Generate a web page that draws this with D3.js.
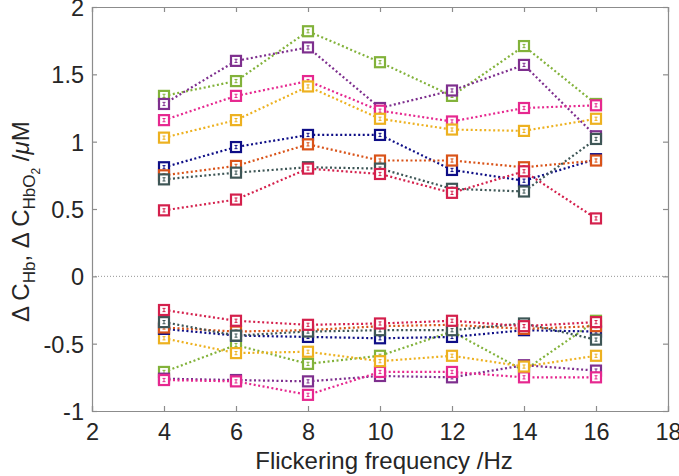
<!DOCTYPE html>
<html><head><meta charset="utf-8">
<script src="https://cdn.jsdelivr.net/npm/d3@7"></script>
<style>body{margin:0;background:#fff}svg{display:block}text{font-family:Arial,"Liberation Sans",Helvetica,sans-serif;fill:#262626}</style>
</head><body><svg id="c" width="679" height="476"></svg>
<script>
const frequencies = [4, 6, 8, 10, 12, 14, 16];
const xTicks = [2, 4, 6, 8, 10, 12, 14, 16, 18];
const yTicks = [-1, -0.5, 0, 0.5, 1, 1.5, 2];
const colors = ["#82B23A", "#7E2F8E", "#E6288F", "#EDB120", "#0E0E86", "#D95319", "#3E5656", "#D4204C"];
// HbO2 (upper) series
const hbo2Green   = [1.34, 1.45, 1.82, 1.59, 1.34, 1.71, 1.28];
const hbo2Purple  = [1.28, 1.60, 1.70, 1.25, 1.38, 1.57, 1.04];
const hbo2Pink    = [1.16, 1.34, 1.45, 1.23, 1.15, 1.25, 1.27];
const hbo2Yellow  = [1.03, 1.16, 1.41, 1.17, 1.09, 1.08, 1.17];
const hbo2Navy    = [0.81, 0.96, 1.05, 1.05, 0.79, 0.71, 0.87];
const hbo2Orange  = [0.75, 0.82, 0.98, 0.86, 0.86, 0.81, 0.86];
const hbo2Gray    = [0.72, 0.77, 0.81, 0.80, 0.65, 0.63, 1.02];
const hbo2Crimson = [0.49, 0.57, 0.80, 0.76, 0.62, 0.78, 0.43];
// Hb (lower) series
const hbGreen   = [-0.71, -0.51, -0.65, -0.59, -0.41, -0.70, -0.33];
const hbPurple  = [-0.76, -0.77, -0.78, -0.74, -0.75, -0.66, -0.70];
const hbPink    = [-0.77, -0.78, -0.88, -0.71, -0.71, -0.75, -0.75];
const hbYellow  = [-0.46, -0.57, -0.56, -0.63, -0.59, -0.67, -0.59];
const hbNavy    = [-0.39, -0.44, -0.45, -0.46, -0.45, -0.40, -0.41];
const hbOrange  = [-0.38, -0.41, -0.40, -0.37, -0.36, -0.39, -0.37];
const hbGray    = [-0.34, -0.44, -0.41, -0.40, -0.40, -0.35, -0.47];
const hbCrimson = [-0.25, -0.33, -0.36, -0.35, -0.33, -0.37, -0.34];
const errHalf = 0.012;

const upper = [hbo2Green, hbo2Purple, hbo2Pink, hbo2Yellow, hbo2Navy, hbo2Orange, hbo2Gray, hbo2Crimson];
const lower = [hbGreen, hbPurple, hbPink, hbYellow, hbNavy, hbOrange, hbGray, hbCrimson];

const svg = d3.select("#c");
const L = 92, R = 668, T = 7, B = 411;
const x = d3.scaleLinear().domain([2, 18]).range([L, R]);
const y = d3.scaleLinear().domain([-1, 2]).range([B, T]);
const axisCol = "#8c8c8c";

// zero line
svg.append("line").attr("x1", L).attr("x2", R).attr("y1", y(0)).attr("y2", y(0))
  .attr("stroke", "#777").attr("stroke-width", 0.8).attr("stroke-dasharray", "1,2");

// axes
const gx = svg.append("g").attr("transform", `translate(0,${B})`)
  .call(d3.axisBottom(x).tickValues(xTicks).tickSize(-5).tickPadding(12).tickFormat(d3.format("d")));
const gxt = svg.append("g").attr("transform", `translate(0,${T})`)
  .call(d3.axisTop(x).tickValues(xTicks).tickSize(-5).tickFormat(""));
const gy = svg.append("g").attr("transform", `translate(${L},0)`)
  .call(d3.axisLeft(y).tickValues(yTicks).tickSize(-5).tickPadding(8).tickFormat(d => String(d)));
const gyr = svg.append("g").attr("transform", `translate(${R},0)`)
  .call(d3.axisRight(y).tickValues(yTicks).tickSize(-5).tickFormat(""));
[gx, gxt, gy, gyr].forEach(g => {
  g.select(".domain").attr("stroke", axisCol).attr("stroke-width", 1.2);
  g.selectAll(".tick line").attr("stroke", axisCol).attr("stroke-width", 1.2);
  g.selectAll("text").attr("font-size", 23.5).attr("fill", "#262626")
    .style("font-family", "Arial, 'Liberation Sans', Helvetica, sans-serif");
});
gx.selectAll("text").attr("dy", "0.71em");
gy.selectAll("text").attr("dy", "0.36em");

// series
const line = d3.line().x((d, i) => x(frequencies[i])).y(d => y(d));
function drawSet(sets) {
  sets.forEach((vals, k) => {
    const col = colors[k];
    const g = svg.append("g");
    g.append("path").attr("d", line(vals)).attr("fill", "none").attr("stroke", col)
      .attr("stroke-width", 2.2).attr("stroke-dasharray", "2,2.5");
    const pts = g.selectAll("g.pt").data(vals).join("g").attr("class", "pt")
      .attr("transform", (d, i) => `translate(${x(frequencies[i])},${y(d)})`);
    pts.append("rect").attr("x", -5).attr("y", -5).attr("width", 10).attr("height", 10)
      .attr("fill", "#fff").attr("stroke", col).attr("stroke-width", 2.2);
    // tiny error bars
    pts.append("path").attr("d", d => {
      const a = y(d + errHalf) - y(d), b = y(d - errHalf) - y(d);
      return `M0,${a}V${b}M-1.5,${a}H1.5M-1.5,${b}H1.5`;
    }).attr("stroke", col).attr("stroke-width", 1).attr("fill", "none");
  });
}
drawSet(upper);
drawSet(lower);

// labels
svg.append("text").attr("x", (L + R) / 2 + 4).attr("y", 469).attr("text-anchor", "middle")
  .attr("font-size", 24).text("Flickering frequency /Hz");

const yl = svg.append("text").attr("transform", `translate(29,322) rotate(-90)`)
  .attr("text-anchor", "start").attr("font-size", 24);
yl.append("tspan").text("Δ C");
yl.append("tspan").attr("font-size", 17).attr("dy", 6).text("Hb");
yl.append("tspan").attr("dy", -6).text(", Δ C");
yl.append("tspan").attr("font-size", 17).attr("dy", 6).text("HbO");
yl.append("tspan").attr("font-size", 12).attr("dy", 5).text("2");
yl.append("tspan").attr("dy", -11).text("  /");
yl.append("tspan").attr("font-style", "italic").text("μ");
yl.append("tspan").text("M");
</script></body></html>
